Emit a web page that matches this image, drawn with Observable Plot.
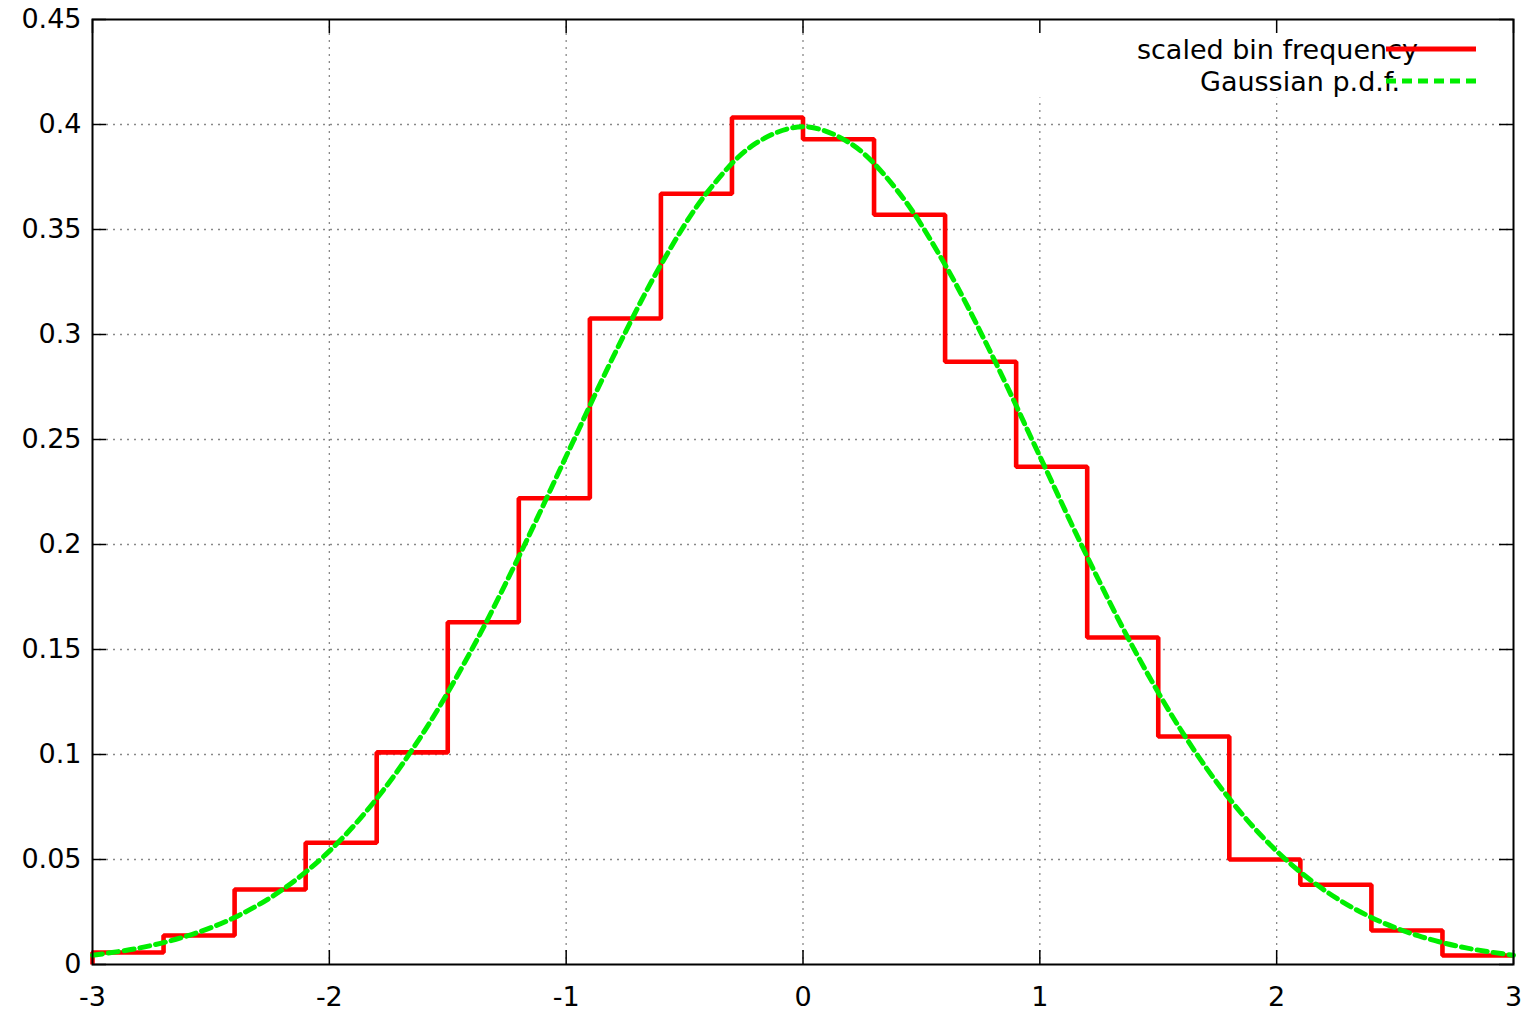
<!DOCTYPE html>
<html>
<head>
<meta charset="utf-8">
<script src="https://cdn.jsdelivr.net/npm/d3@7"></script>
<script src="https://cdn.jsdelivr.net/npm/@observablehq/plot@0.6"></script>
<style>
  body { margin: 0; background: white; }
  #chart svg { display: block; }
</style>
</head>
<body>
<div id="chart"></div>
<script>
// Histogram bins (left edges) and scaled bin frequencies
const binStart = [-3.0, -2.7, -2.4, -2.1, -1.8, -1.5, -1.2, -0.9, -0.6, -0.3,
                   0.0,  0.3,  0.6,  0.9,  1.2,  1.5,  1.8,  2.1,  2.4,  2.7];
const binFreq  = [0.0057, 0.0138, 0.0357, 0.058, 0.101, 0.163, 0.222, 0.3076, 0.367, 0.4033,
                  0.393, 0.357, 0.287, 0.237, 0.1557, 0.1086, 0.050, 0.038, 0.0162, 0.0043];
const binEnd = 3.0;

// Gaussian p.d.f. curve
const gaussX = [-3.0, -2.8, -2.6, -2.4, -2.2, -2.0, -1.8, -1.6, -1.4, -1.2, -1.0, -0.8, -0.6, -0.4, -0.2,
                 0.0,  0.2,  0.4,  0.6,  0.8,  1.0,  1.2,  1.4,  1.6,  1.8,  2.0,  2.2,  2.4,  2.6,  2.8, 3.0];
const gaussY = [0.0044, 0.0079, 0.0136, 0.0224, 0.0355, 0.0540, 0.0790, 0.1109, 0.1497, 0.1942, 0.2420,
                0.2897, 0.3332, 0.3683, 0.3910, 0.3989, 0.3910, 0.3683, 0.3332, 0.2897, 0.2420, 0.1942,
                0.1497, 0.1109, 0.0790, 0.0540, 0.0355, 0.0224, 0.0136, 0.0079, 0.0044];

const xTicks = [-3, -2, -1, 0, 1, 2, 3];
const yTicks = [0, 0.05, 0.1, 0.15, 0.2, 0.25, 0.3, 0.35, 0.4, 0.45];
const yTickLabels = ["0", "0.05", "0.1", "0.15", "0.2", "0.25", "0.3", "0.35", "0.4", "0.45"];
const legendLabels = ["scaled bin frequency", "Gaussian p.d.f."];

const W = 1534, H = 1012;
const mL = 92, mR = 21, mT = 19, mB = 48;
const pw = W - mL - mR, ph = H - mT - mB;
const FONT = "'DejaVu Sans', 'Liberation Sans', Arial, sans-serif";

// step data
const steps = [{x: binStart[0], y: 0}];
binStart.forEach((x, i) => steps.push({x, y: binFreq[i]}));
steps.push({x: binEnd, y: binFreq[binFreq.length - 1]});
const gauss = gaussX.map((x, i) => ({x, y: gaussY[i]}));

const red = "#ff0000", green = "#00ee00";
const gridStyle = {stroke: "#888", strokeOpacity: 1, strokeWidth: 1.3, strokeDasharray: "2,5"};

const chart = Plot.plot({
  width: W, height: H,
  marginLeft: mL, marginRight: mR, marginTop: mT, marginBottom: mB,
  style: {fontFamily: FONT, fontSize: "27px", background: "white", color: "black"},
  x: {domain: [-3, 3], ticks: xTicks, label: null},
  y: {domain: [0, 0.45], ticks: yTicks, label: null},
  marks: [
    Plot.gridX(xTicks.slice(1, -1), gridStyle),
    Plot.gridY(yTicks.slice(1, -1), gridStyle),
    Plot.frame({fill: "white", stroke: null, insetLeft: 900, insetBottom: ph - 78}),
    Plot.tickY(yTicks, {y: d => d, insetRight: pw - 14, stroke: "black", strokeWidth: 1.5}),
    Plot.tickY(yTicks, {y: d => d, insetLeft: pw - 14, stroke: "black", strokeWidth: 1.5}),
    Plot.tickX(xTicks, {x: d => d, insetTop: ph - 14, stroke: "black", strokeWidth: 1.5}),
    Plot.tickX(xTicks, {x: d => d, insetBottom: ph - 14, stroke: "black", strokeWidth: 1.5}),
    Plot.axisY(yTicks, {anchor: "left", label: null, tickSize: 0, tickPadding: 11, tickFormat: (d, i) => yTickLabels[i], fill: "black", fontSize: 27}),
    Plot.axisX(xTicks, {anchor: "bottom", label: null, tickSize: 0, tickPadding: 22, tickFormat: d => String(d), fill: "black", fontSize: 27}),
    Plot.line(steps, {x: "x", y: "y", curve: "step-after", stroke: red, strokeWidth: 4.6, strokeLinejoin: "miter", strokeLinecap: "butt"}),
    Plot.line(gauss, {x: "x", y: "y", curve: "catmull-rom", stroke: green, strokeWidth: 5, strokeDasharray: "10,6"}),
    Plot.frame({stroke: "black", strokeWidth: 2})
  ]
});

// legend inside the top-right of the plot
const svg = d3.select(chart);
const lg = svg.append("g").attr("font-family", FONT).attr("font-size", 27).attr("fill", "black");
const legendRows = [
  {label: legendLabels[0], y: 49, textX: 1418, color: red, dash: null},
  {label: legendLabels[1], y: 81, textX: 1400, color: green, dash: "10,6"}
];
legendRows.forEach(r => {
  lg.append("text").attr("x", r.textX).attr("y", r.y).attr("dy", "0.38em").attr("text-anchor", "end").text(r.label);
  const l = lg.append("line").attr("x1", 1386).attr("x2", 1476).attr("y1", r.y).attr("y2", r.y)
    .attr("stroke", r.color).attr("stroke-width", 5);
  if (r.dash) l.attr("stroke-dasharray", r.dash);
});

document.getElementById("chart").appendChild(chart);
</script>
</body>
</html>
